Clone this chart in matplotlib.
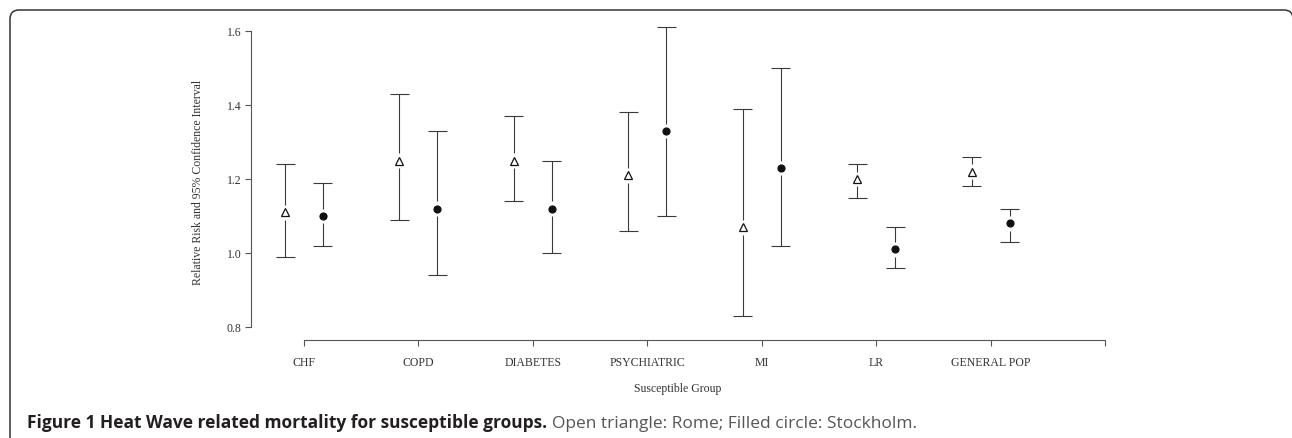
import numpy as np
import matplotlib
matplotlib.use('Agg')
import matplotlib.pyplot as plt
from matplotlib.patches import FancyBboxPatch

# Relative risk (and 95% CI) per susceptible group
groups = ['CHF', 'COPD', 'DIABETES', 'PSYCHIATRIC', 'MI', 'LR', 'GENERAL POP']
rome_rr = [1.11, 1.25, 1.25, 1.21, 1.07, 1.20, 1.22]
rome_lo = [0.99, 1.09, 1.14, 1.06, 0.83, 1.15, 1.18]
rome_hi = [1.24, 1.43, 1.37, 1.38, 1.39, 1.24, 1.26]
sthlm_rr = [1.10, 1.12, 1.12, 1.33, 1.23, 1.01, 1.08]
sthlm_lo = [1.02, 0.94, 1.00, 1.10, 1.02, 0.96, 1.03]
sthlm_hi = [1.19, 1.33, 1.25, 1.61, 1.50, 1.07, 1.12]
yticks = [0.8, 1.0, 1.2, 1.4, 1.6]

W, H = 1292, 438
fig = plt.figure(figsize=(W / 100, H / 100), dpi=100)
ax = fig.add_axes([251 / W, (H - 340) / H, (1105 - 251) / W, (340 - 25) / H])

serif = 'Liberation Serif'
fs = 8.5
line_col = '#3a3a3a'
offset = 0.166   # horizontal shift of each city within a group
cap = 0.083      # half width of the whisker caps
gap = 0.02       # break in the CI line around the marker

x = np.arange(len(groups))


def ci_plot(xpos, rr, lo, hi, marker, face):
    rr, lo, hi = np.array(rr), np.array(lo), np.array(hi)
    ax.vlines(xpos, rr + gap, hi, color=line_col, lw=0.8)
    ax.vlines(xpos, lo, rr - gap, color=line_col, lw=0.8)
    ax.hlines(hi, xpos - cap, xpos + cap, color=line_col, lw=0.8)
    ax.hlines(lo, xpos - cap, xpos + cap, color=line_col, lw=0.8)
    ax.plot(xpos, rr, linestyle='none', marker=marker, markersize=5.5 if marker == '^' else 5,
            markerfacecolor=face, markeredgecolor='#111111', markeredgewidth=0.9)


ci_plot(x - offset, rome_rr, rome_lo, rome_hi, '^', 'white')
ci_plot(x + offset, sthlm_rr, sthlm_lo, sthlm_hi, 'o', '#111111')

ax.set_xlim(-(304 - 251) / ((1105 - 304) / 7), len(groups))
ax.set_ylim(1.6 - (340 - 31) / 370, 1.6 + 6 / 370)

for s in ['top', 'right']:
    ax.spines[s].set_visible(False)
ax.spines['left'].set_bounds(yticks[0], yticks[-1])
ax.spines['bottom'].set_bounds(0, len(groups))
for s in ['left', 'bottom']:
    ax.spines[s].set_color('#555555')
    ax.spines[s].set_linewidth(0.8)

ax.set_yticks(yticks)
ax.set_yticklabels(['%.1f' % v for v in yticks], fontfamily=serif, fontsize=fs, color='#333333')
ax.set_xticks(np.arange(len(groups) + 1))
ax.set_xticklabels(groups + [''], fontfamily=serif, fontsize=fs, color='#333333')
ax.tick_params(axis='y', length=4, width=0.8, color='#555555', pad=3)
ax.tick_params(axis='x', length=4, width=0.8, color='#555555', pad=8)

ax.set_ylabel('Relative Risk and 95% Confidence Interval', fontfamily=serif, fontsize=fs,
              color='#333333')
ax.yaxis.set_label_coords((204 - 251) / (1105 - 251), 0.5)
ax.set_xlabel('Susceptible Group', fontfamily=serif, fontsize=fs, color='#333333')
ax.xaxis.set_label_coords(0.5, -(389 - 340) / (340 - 25))
ax.xaxis.label.set_verticalalignment('center')
ax.patch.set_visible(False)

# rounded frame (cut off at the right and bottom edges)
frame = FancyBboxPatch((10, -30), 1283, H - 10 + 30, boxstyle='round,pad=0,rounding_size=9',
                       transform=None, facecolor='none', edgecolor='#333333', lw=1.1)
fig.patches.append(frame)

# caption
t1 = fig.text(27 / W, (H - 428) / H, 'Figure 1 Heat Wave related mortality for susceptible groups.',
              fontfamily='Open Sans', fontweight='bold', fontsize=12.5, color='#231f20')
fig.canvas.draw()
bb = t1.get_window_extent(fig.canvas.get_renderer())
fig.text((bb.x1 + 5) / W, (H - 428) / H, 'Open triangle: Rome; Filled circle: Stockholm.',
         fontfamily='Open Sans', fontsize=12.5, color='#555555')

fig.savefig('out.png', dpi=100)
